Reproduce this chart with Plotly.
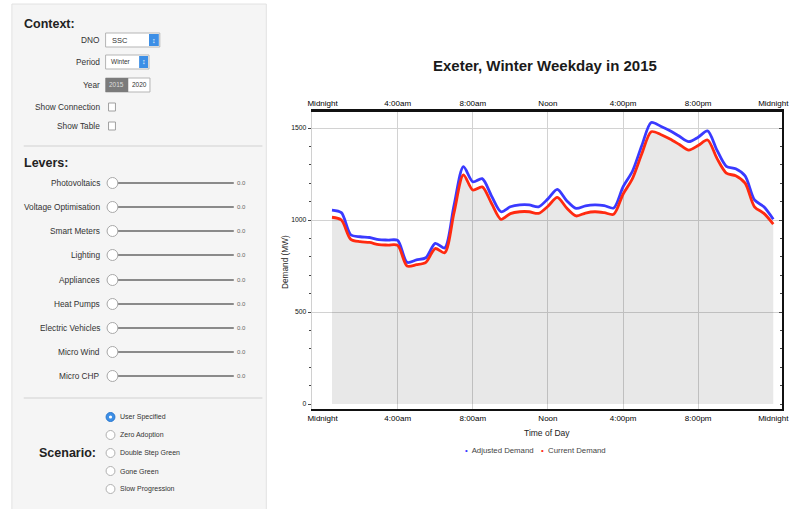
import plotly.graph_objects as go

# ---------------- data ----------------
hours = [0.5, 1.0, 1.5, 2.0, 2.5, 3.0, 3.5, 4.0, 4.5, 5.0, 5.5, 6.0,
         6.5, 7.0, 7.5, 8.0, 8.5, 9.0, 9.5, 10.0, 10.5, 11.0, 11.5, 12.0,
         12.5, 13.0, 13.5, 14.0, 14.5, 15.0, 15.5, 16.0, 16.5, 17.0, 17.5, 18.0,
         18.5, 19.0, 19.5, 20.0, 20.5, 21.0, 21.5, 22.0, 22.5, 23.0, 23.5, 24.0]
current_demand = [1015, 1000, 895, 882, 878, 866, 864, 862, 750, 757, 770, 845,
                  822, 1040, 1245, 1163, 1180, 1090, 1004, 1035, 1045, 1045, 1036, 1075,
                  1123, 1065, 1022, 1038, 1045, 1040, 1031, 1140, 1225, 1360, 1480, 1465,
                  1440, 1410, 1380, 1405, 1435, 1335, 1255, 1240, 1200, 1072, 1036, 978]
adjusted_demand = [1054, 1040, 920, 909, 905, 893, 891, 889, 770, 783, 795, 873,
                   848, 1080, 1290, 1208, 1225, 1130, 1045, 1072, 1082, 1082, 1072, 1115,
                   1167, 1105, 1063, 1077, 1082, 1078, 1065, 1180, 1265, 1405, 1530, 1510,
                   1485, 1455, 1426, 1450, 1484, 1380, 1292, 1278, 1240, 1109, 1072, 1004]
tick_hours = [0, 4, 8, 12, 16, 20, 24]
tick_labels = ["Midnight", "4:00am", "8:00am", "Noon", "4:00pm", "8:00pm", "Midnight"]
grid_hours = [4, 8, 12, 16, 20]
y_ticks = [0, 500, 1000, 1500]
y_grid = [500, 1000, 1500]

title_text = "Exeter, Winter Weekday in 2015"
lever_names = ["Photovoltaics", "Voltage Optimisation", "Smart Meters", "Lighting",
               "Appliances", "Heat Pumps", "Electric Vehicles", "Micro Wind", "Micro CHP"]
scenario_names = ["User Specified", "Zero Adoption", "Double Step Green",
                  "Gone Green", "Slow Progression"]

# ---------------- layout helpers ----------------
W, H = 797, 509
FONT = "Liberation Sans"


def X(p):
    return p / W


def Y(p):
    return 1 - p / H


shapes = []
annotations = []


def rect(x0, y0, x1, y1, fill, line=None, lw=1):
    shapes.append(dict(type="rect", xref="paper", yref="paper",
                       x0=X(x0), x1=X(x1), y0=Y(y1), y1=Y(y0),
                       fillcolor=fill,
                       line=dict(color=line if line else fill, width=lw if line else 0),
                       layer="above"))


def hline(x0, x1, y, color, lw):
    shapes.append(dict(type="line", xref="paper", yref="paper",
                       x0=X(x0), x1=X(x1), y0=Y(y), y1=Y(y),
                       line=dict(color=color, width=lw), layer="above"))


def circle(cx, cy, r, fill, line, lw=1):
    shapes.append(dict(type="circle", xref="paper", yref="paper",
                       x0=X(cx - r), x1=X(cx + r), y0=Y(cy + r), y1=Y(cy - r),
                       fillcolor=fill, line=dict(color=line, width=lw), layer="above"))


def text(x, y, s, size=7, anchor="left", color="#333", angle=0, family=FONT):
    annotations.append(dict(xref="paper", yref="paper", x=X(x), y=Y(y), text=s,
                            showarrow=False, xanchor=anchor, yanchor="middle",
                            textangle=angle, borderpad=0,
                            font=dict(family=family, size=size, color=color)))


# ---------------- side panel ----------------
rect(8, 4, 266, 515, "#f5f5f5", "#e2e2e2", 1)
hline(20, 262, 146, "#dcdcdc", 1.5)
hline(20, 262, 398, "#dcdcdc", 1.5)

LBL = 8.3
text(19, 24, "<b>Context:</b>", 12.5, color="#222")
# DNO
text(98, 40, "DNO", LBL, "right")
rect(103, 33, 158, 47, "#ffffff", "#b5b5b5")
rect(147, 34, 157, 46, "#3d8fe6")
text(152, 40, "↕", 7, "center", "#ffffff")
text(108, 40, "SSC", 7.5)
# Period
text(98, 62, "Period", LBL, "right")
rect(103, 55, 147, 69, "#ffffff", "#b5b5b5")
rect(137, 56, 146, 68, "#3d8fe6")
text(141.5, 62, "↕", 7, "center", "#ffffff")
text(107, 62, "Winter", 6.5)
# Year
text(98, 85, "Year", LBL, "right")
rect(103, 78, 148, 92, "#ffffff", "#b5b5b5")
rect(103, 78, 126, 92, "#7b7b7b")
text(114.5, 85, "2015", 6.5, "center", "#dddddd")
text(137, 85, "2020", 6.5, "center", "#333")
# checkboxes
text(98, 107, "Show Connection", LBL, "right")
rect(106, 103, 113, 111, "#ffffff", "#a0a0a0")
text(98, 126, "Show Table", LBL, "right")
rect(106, 122, 113, 130, "#ffffff", "#a0a0a0")

text(19, 163, "<b>Levers:</b>", 12.5, color="#222")
lever_y = [183, 207, 231, 255, 280, 304, 328, 352, 376]
for name, ly in zip(lever_names, lever_y):
    text(98, ly, name, LBL, "right")
    hline(110, 233, ly, "#8a8a8a", 2)
    circle(110, ly, 5.5, "#ffffff", "#a8a8a8", 1)
    text(235, ly, "0.0", 6, "left", "#666")

text(34, 453, "<b>Scenario:</b>", 12.5, color="#222")
radio_y = [417, 435, 453, 471, 489]
for i, (name, ry) in enumerate(zip(scenario_names, radio_y)):
    if i == 0:
        circle(108, ry, 4.5, "#3d8fe6", "#2a78cf", 1)
        circle(108, ry, 1.6, "#ffffff", "#ffffff", 0)
    else:
        circle(108, ry, 4.5, "#ffffff", "#b0b0b0", 1)
    text(117, ry, name, 7, "left")

# ---------------- chart texts ----------------
text(549, 66, "<b>" + title_text + "</b>", 15, "center", "#1a1a1a")
text(285, 262, "Demand (MW)", 8.3, "center", "#222", angle=-90)
text(551, 433, "Time of Day", 8.5, "center", "#222")
text(466, 450, "<span style='color:#3a3aff'>•</span>  Adjusted Demand", 7.8, "left", "#444")
text(543, 450, "<span style='color:#ff2a10'>•</span>  Current Demand", 7.8, "left", "#444")

# ---------------- figure ----------------
SM = 0.8
fig = go.Figure()
fig.add_trace(go.Scatter(x=hours, y=current_demand, mode="lines",
                         line=dict(width=0, shape="spline", smoothing=SM),
                         fill="tozeroy", fillcolor="rgba(0,0,0,0.09)",
                         hoverinfo="skip", showlegend=False))
fig.add_trace(go.Scatter(x=hours, y=adjusted_demand, mode="lines", name="Adjusted Demand",
                         line=dict(color="#3a3aff", width=2.8, shape="spline", smoothing=SM),
                         showlegend=False))
fig.add_trace(go.Scatter(x=hours, y=current_demand, mode="lines", name="Current Demand",
                         line=dict(color="#ff2a10", width=2.8, shape="spline", smoothing=SM),
                         showlegend=False))
# helper traces so that the overlay axes (top labels, right frame, grid) are drawn
fig.add_trace(go.Scatter(x=hours, y=current_demand, xaxis="x2", yaxis="y2", mode="lines",
                         line=dict(width=0), opacity=0, hoverinfo="skip", showlegend=False))
fig.add_trace(go.Scatter(x=hours, y=current_demand, xaxis="x3", yaxis="y2", mode="lines",
                         line=dict(width=0), opacity=0, hoverinfo="skip", showlegend=False))

xr = [-0.58, 24.47]
yr = [-27, 1587]
xdom = [312 / W, 789 / W]
ydom = [1 - 409 / H, 1 - 112 / H]
tickfont = dict(family=FONT, size=8, color="#000")

fig.update_layout(
    width=W, height=H,
    margin=dict(l=0, r=0, t=0, b=0),
    paper_bgcolor="white", plot_bgcolor="white",
    showlegend=False,
    shapes=shapes, annotations=annotations,
    xaxis=dict(domain=xdom, range=xr, tickvals=tick_hours, ticktext=tick_labels,
               showgrid=False, zeroline=False, showline=True, linecolor="#111",
               linewidth=2, ticks="", tickfont=tickfont),
    xaxis2=dict(overlaying="x", anchor="y", side="top", range=xr,
                tickvals=tick_hours, ticktext=tick_labels, showgrid=False,
                zeroline=False, showline=True, linecolor="#111", linewidth=2.5,
                ticks="", tickfont=tickfont),
    xaxis3=dict(overlaying="x", anchor="y", range=xr, tickvals=grid_hours,
                showgrid=True, gridcolor="#d2d2d2", gridwidth=1,
                showticklabels=False, showline=False, zeroline=False, ticks=""),
    yaxis=dict(domain=ydom, range=yr, tickvals=y_ticks, showgrid=False,
               zeroline=False, showline=True, linecolor="#d0d0d0", linewidth=1,
               ticks="outside", ticklen=3, tickcolor="#444",
               minor=dict(dtick=100, ticks="outside", ticklen=2, tickcolor="#444"),
               tickfont=dict(family=FONT, size=6.8, color="#111")),
    yaxis2=dict(overlaying="y", anchor="x", side="right", range=yr, tickvals=y_grid,
                showgrid=True, gridcolor="#d2d2d2", gridwidth=1,
                showticklabels=False, zeroline=False, showline=True,
                linecolor="#111", linewidth=2, ticks="inside", ticklen=3,
                tickcolor="#444",
                minor=dict(dtick=100, ticks="inside", ticklen=2, tickcolor="#444")),
)

fig.write_html("out.html", config={"displayModeBar": False},
               post_script="document.body.style.margin='0';document.body.style.overflow='hidden';")
